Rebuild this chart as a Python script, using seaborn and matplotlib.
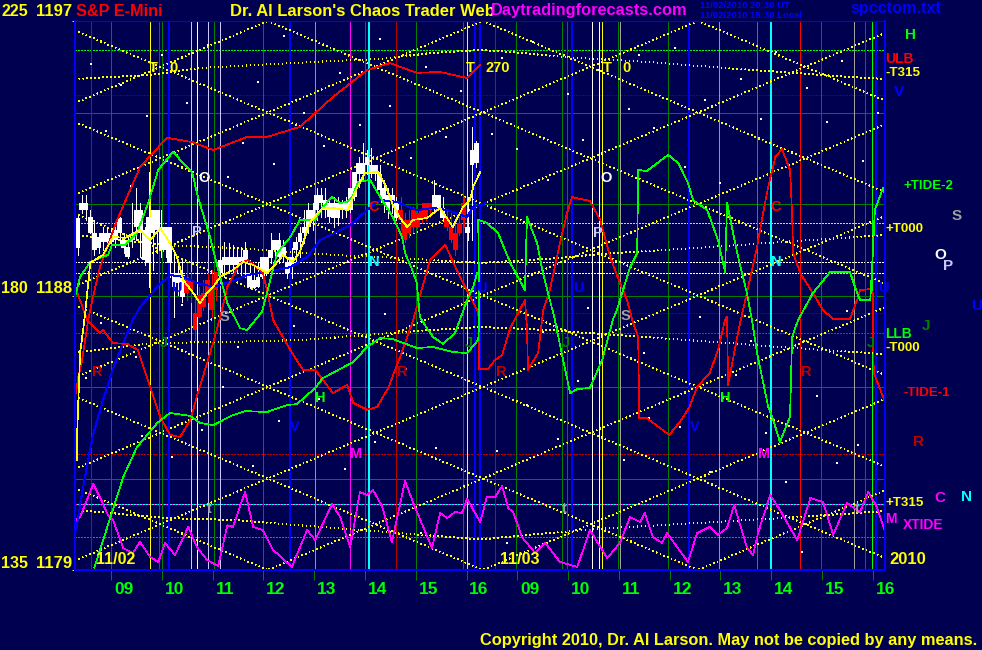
"""
S&P E-Mini chaos trader chart, two sessions of 5 minute bars with tide curves.
Time axis is continuous session hours (day one 09 = 9, day two 09 = 17).
"""

import numpy as np
import pandas as pd
import matplotlib
matplotlib.use('Agg')
import matplotlib.pyplot as plt
import seaborn as sns

NAVY = '#000050'
YELLOW = '#FFFF00'
LIME = '#00FF00'
GREEN = '#008000'
RED = '#FF0000'
DARKRED = '#C00000'
BLUE = '#0000FF'
MAGENTA = '#FF00FF'
CYAN = '#00FFFF'
LAVENDER = '#C8C8FF'
GREY = '#A0A0A0'

# 5 minute bars
bar_high = [1190.64, 1191.30, 1191.30, 1190.80, 1190.48, 1190.04, 1190.26, 1190.26, 1190.15, 1190.37,
            1190.59, 1190.04, 1189.93, 1191.02, 1191.51, 1191.02, 1190.26, 1192.06, 1190.80, 1190.80,
            1190.80, 1190.26, 1190.26, 1189.49, 1189.17, 1189.17, 1189.06, 1188.78, 1188.02, 1188.29,
            1188.51, 1188.73, 1188.84, 1188.78, 1189.60, 1189.77, 1189.71, 1189.66, 1189.60, 1189.60,
            1189.77, 1189.17, 1188.95, 1189.06, 1189.27, 1189.27, 1190.04, 1189.82, 1190.04, 1189.82,
            1189.27, 1189.55, 1189.93, 1190.26, 1190.80, 1191.02, 1191.02, 1191.51, 1191.51, 1191.51,
            1191.13, 1191.24, 1191.24, 1191.13, 1191.24, 1191.51, 1192.06, 1192.55, 1192.99, 1192.77,
            1192.83, 1192.28, 1192.28, 1191.79, 1191.51, 1191.51, 1191.24, 1191.24, 1190.69, 1190.80,
            1190.91, 1191.02, 1191.02, 1191.02, 1191.02, 1191.79, 1191.30, 1191.24, 1190.80, 1190.80,
            1190.48, 1190.59, 1191.24, 1191.24, 1193.54, 1193.05]
bar_low = [1189.33, 1190.69, 1190.48, 1190.04, 1189.33, 1189.38, 1189.49, 1189.55, 1189.60, 1189.60,
           1189.71, 1189.38, 1189.22, 1189.60, 1189.82, 1189.27, 1189.00, 1188.29, 1188.84, 1189.38,
           1189.27, 1189.27, 1188.62, 1187.31, 1188.02, 1187.80, 1187.85, 1187.80, 1186.54, 1187.31,
           1187.52, 1187.80, 1187.31, 1187.85, 1188.56, 1188.62, 1188.73, 1188.73, 1188.73, 1188.67,
           1188.62, 1188.24, 1188.24, 1188.29, 1188.56, 1188.67, 1189.06, 1189.06, 1189.06, 1189.11,
           1188.56, 1188.56, 1189.06, 1189.27, 1189.71, 1190.04, 1190.15, 1190.48, 1190.59, 1190.59,
           1190.42, 1190.26, 1190.31, 1190.53, 1190.59, 1190.75, 1191.13, 1191.57, 1191.79, 1192.00,
           1191.90, 1191.79, 1191.24, 1190.75, 1190.53, 1190.69, 1190.48, 1190.15, 1189.77, 1189.93,
           1190.09, 1190.20, 1190.37, 1190.48, 1190.59, 1190.69, 1190.80, 1190.48, 1190.15, 1189.77,
           1189.33, 1190.00, 1190.26, 1189.82, 1189.82, 1192.22]
bar_top = [1190.53, 1191.02, 1191.02, 1190.59, 1190.04, 1189.93, 1190.04, 1190.04, 1190.04, 1190.15,
           1190.53, 1189.82, 1189.60, 1189.93, 1190.80, 1190.80, 1190.15, 1190.59, 1190.80, 1190.80,
           1190.26, 1190.26, 1190.26, 1188.73, 1188.73, 1188.67, 1188.62, 1188.51, 1187.42, 1188.02,
           1188.07, 1188.51, 1188.29, 1188.78, 1189.17, 1189.27, 1189.27, 1189.27, 1189.27, 1189.27,
           1189.49, 1188.73, 1188.51, 1188.62, 1189.27, 1189.27, 1189.49, 1189.82, 1189.82, 1189.60,
           1189.06, 1189.27, 1189.77, 1190.04, 1190.26, 1190.80, 1190.80, 1191.30, 1191.30, 1191.13,
           1191.02, 1191.02, 1191.02, 1191.02, 1191.02, 1191.51, 1192.06, 1192.33, 1192.33, 1192.55,
           1192.28, 1192.28, 1192.00, 1191.51, 1191.30, 1191.30, 1191.02, 1190.80, 1190.48, 1190.48,
           1190.80, 1190.69, 1190.80, 1191.02, 1191.02, 1191.30, 1191.30, 1190.86, 1190.53, 1190.26,
           1190.04, 1190.37, 1191.02, 1190.26, 1192.77, 1192.99]
bar_bot = [1189.55, 1190.80, 1190.80, 1190.04, 1189.49, 1189.55, 1189.77, 1189.77, 1189.77, 1189.82,
           1190.04, 1189.55, 1189.27, 1189.82, 1190.26, 1190.04, 1189.17, 1189.06, 1190.04, 1190.15,
           1189.49, 1189.49, 1189.06, 1188.29, 1188.40, 1187.96, 1188.07, 1188.18, 1186.87, 1187.31,
           1187.63, 1188.07, 1187.52, 1188.18, 1188.73, 1189.00, 1189.00, 1189.00, 1189.00, 1189.06,
           1189.11, 1188.29, 1188.24, 1188.29, 1188.62, 1188.78, 1189.22, 1189.49, 1189.27, 1189.27,
           1188.73, 1188.95, 1189.49, 1189.77, 1190.04, 1190.26, 1190.48, 1190.80, 1191.02, 1190.80,
           1190.59, 1190.53, 1190.53, 1190.80, 1190.80, 1190.80, 1191.24, 1192.00, 1192.00, 1192.28,
           1192.00, 1192.00, 1191.46, 1191.02, 1190.80, 1191.08, 1190.53, 1190.48, 1189.82, 1190.04,
           1190.26, 1190.26, 1190.53, 1190.59, 1190.80, 1190.86, 1190.86, 1190.53, 1190.26, 1189.82,
           1189.49, 1190.04, 1190.48, 1190.04, 1192.28, 1192.33]
red_bars = [26, 27, 28, 29, 30, 31, 32, 33, 77, 78, 79, 80, 81, 82, 83, 84, 88, 89, 90, 91, 92]

# tide curves
red_upper_t = [8.31, 8.35, 8.43, 8.55, 8.63, 8.78, 9.12, 9.57, 10.10, 10.60, 11.01, 11.68, 12.07, 12.72,
               13.37, 14.04, 14.49, 15.02, 15.48, 16.01, 16.27]
red_upper_p = [1184.80, 1185.29, 1185.88, 1187.20, 1187.85, 1188.93, 1190.48, 1192.21, 1193.17, 1193.03,
               1192.77, 1193.20, 1193.20, 1193.53, 1194.51, 1195.39, 1195.62, 1195.30, 1195.33, 1195.13,
               1195.56]

red_lower_t = [8.31, 8.53, 8.78, 8.84, 9.04, 9.32, 9.53, 9.77, 9.97, 10.16, 10.36, 10.56, 10.71, 11.01,
               11.15, 11.29, 11.54, 11.70, 11.99, 12.07, 12.19, 12.53, 12.78, 13.02, 13.37, 13.65, 13.77,
               14.04, 14.24, 14.46, 14.69, 14.95, 15.28, 15.58, 15.87, 16.21, 16.25, 16.25, 16.42, 16.56,
               16.70, 16.86, 17.15, 17.19, 17.21, 17.41, 17.51, 17.64, 17.84, 17.98, 18.08, 18.14, 18.43,
               18.63, 18.83, 19.02, 19.16, 19.28, 19.38, 19.40, 19.55, 19.99, 20.20, 20.38, 20.54, 20.79,
               20.95, 21.09, 21.13, 21.15, 21.33, 21.40, 21.52, 21.72, 21.84, 21.94, 22.02, 22.08, 22.21,
               22.37, 22.41, 22.43, 22.57, 22.82, 23.02, 23.22, 23.55, 23.69, 23.75, 23.95, 24.00, 24.00,
               24.02, 24.24]
red_lower_p = [1188.21, 1187.20, 1186.77, 1186.87, 1186.44, 1186.41, 1186.21, 1185.00, 1184.02, 1183.43,
               1183.36, 1183.92, 1184.80, 1186.44, 1187.30, 1188.28, 1189.07, 1189.16, 1188.74, 1188.18,
               1187.20, 1186.21, 1185.56, 1185.56, 1184.80, 1185.07, 1184.48, 1184.25, 1184.35, 1184.97,
               1185.98, 1187.20, 1189.16, 1189.66, 1188.61, 1187.52, 1187.20, 1185.59, 1185.59, 1185.88,
               1186.05, 1186.93, 1187.85, 1186.93, 1185.56, 1186.12, 1187.52, 1188.18, 1189.72, 1190.71,
               1191.23, 1191.20, 1191.10, 1190.48, 1189.26, 1188.41, 1187.85, 1187.10, 1186.64, 1183.98,
               1183.98, 1183.43, 1183.85, 1184.31, 1185.00, 1185.46, 1186.21, 1187.20, 1187.30, 1185.07,
               1186.64, 1187.20, 1188.08, 1189.59, 1190.71, 1191.56, 1192.12, 1192.54, 1192.80, 1192.12,
               1190.71, 1189.39, 1188.74, 1188.08, 1187.52, 1187.23, 1187.23, 1187.85, 1188.18, 1188.21,
               1188.08, 1186.93, 1185.46, 1184.51]

green_a_t = [8.67, 9.24, 9.51, 9.91, 10.16, 10.56, 10.75, 11.01, 11.40, 11.64, 12.07, 12.47, 12.66, 13.02,
             13.17, 13.77, 14.04, 14.30, 14.55, 15.02, 15.34, 15.73, 16.01, 16.23, 16.25, 16.23, 16.40,
             16.62, 16.86, 17.15, 17.19, 17.39, 17.49, 17.74, 17.86, 18.04, 18.18, 18.43, 18.67, 18.88,
             18.96, 19.22, 19.36, 19.38, 19.55, 19.97, 20.17, 20.36, 20.46, 20.74, 20.95, 21.09, 21.13,
             21.33, 21.52, 21.62, 21.72, 21.94, 22.02, 22.17, 22.37, 22.41, 22.53, 22.82, 23.16, 23.55,
             23.69, 23.75, 23.95, 24.00, 24.04, 24.20, 24.24]
green_a_p = [1179.07, 1182.05, 1183.03, 1183.82, 1184.15, 1184.05, 1183.82, 1183.75, 1184.08, 1184.21,
             1184.18, 1184.41, 1184.44, 1184.97, 1185.29, 1185.82, 1186.31, 1186.61, 1186.57, 1186.28,
             1186.31, 1186.15, 1186.11, 1186.54, 1187.20, 1190.48, 1190.38, 1190.05, 1189.07, 1188.18,
             1190.57, 1189.72, 1188.84, 1187.20, 1186.21, 1184.80, 1184.93, 1184.97, 1185.88, 1187.20,
             1187.52, 1188.93, 1189.39, 1192.12, 1192.08, 1192.61, 1192.34, 1191.69, 1191.13, 1190.80,
             1189.82, 1188.77, 1191.03, 1189.39, 1188.08, 1187.20, 1186.12, 1184.35, 1184.02, 1183.20,
             1184.02, 1186.64, 1187.20, 1188.08, 1188.77, 1188.77, 1188.08, 1187.85, 1187.85, 1189.39,
             1190.80, 1191.52, 1191.29]

green_b_t = [8.29, 8.39, 8.59, 8.82, 8.94, 9.02, 9.28, 9.51, 9.73, 9.93, 10.22, 10.42, 10.60, 10.71, 10.95,
             11.11, 11.29, 11.54, 11.68, 11.97, 12.07, 12.27, 12.53, 12.72, 13.02, 13.17, 13.35, 13.51,
             13.65, 13.75, 13.86, 14.10, 14.30, 14.55, 14.73, 14.79, 14.93, 15.02, 15.08, 15.22, 15.34,
             15.54, 15.77, 15.87, 16.01, 16.13, 16.21]
green_b_p = [1187.95, 1188.61, 1189.10, 1189.26, 1189.33, 1189.66, 1189.66, 1190.05, 1191.03, 1192.12,
             1192.71, 1192.34, 1192.02, 1191.23, 1189.92, 1188.84, 1187.75, 1186.93, 1186.87, 1187.46,
             1188.08, 1189.39, 1189.92, 1190.48, 1190.48, 1190.90, 1191.23, 1191.03, 1191.07, 1191.23,
             1191.72, 1191.79, 1191.23, 1190.57, 1189.92, 1189.39, 1188.84, 1188.41, 1187.30, 1186.93,
             1186.64, 1186.41, 1186.77, 1187.20, 1187.85, 1188.28, 1188.74]

yellow_ma_t = [8.33, 8.33, 8.39, 8.45, 8.49, 8.59, 8.84, 9.04, 9.28, 9.57, 9.77, 9.97, 10.16, 10.30, 10.42,
               10.62, 10.75, 10.89, 11.01, 11.15, 11.40, 11.60, 11.80, 12.07, 12.19, 12.39, 12.58, 12.72,
               12.92, 13.17, 13.37, 13.67, 13.80, 14.00, 14.26, 14.40, 14.55, 14.69, 14.83, 14.95, 15.22,
               15.48, 15.73, 15.93, 16.07, 16.13, 16.27]
yellow_ma_p = [1182.61, 1183.36, 1186.12, 1186.87, 1187.43, 1189.07, 1189.33, 1189.92, 1189.89, 1190.15,
               1189.82, 1190.21, 1189.72, 1189.26, 1188.51, 1188.08, 1187.75, 1188.08, 1188.28, 1188.61,
               1188.84, 1189.10, 1189.00, 1188.74, 1188.93, 1189.33, 1189.10, 1189.43, 1190.41, 1190.87,
               1190.87, 1190.80, 1191.39, 1192.02, 1192.05, 1191.62, 1190.97, 1190.54, 1190.25, 1190.48,
               1190.54, 1190.87, 1190.25, 1190.90, 1191.13, 1191.56, 1192.05]

blue_ma_t = [8.31, 8.45, 8.63, 8.84, 9.08, 9.43, 9.57, 9.91, 10.16, 10.42, 10.69, 11.01, 11.34, 11.68, 12.07,
             12.53, 12.86, 13.12, 13.71, 14.04, 14.30, 14.63, 15.02, 15.34, 15.62, 16.01, 16.13, 16.37]
blue_ma_p = [1180.31, 1181.72, 1183.33, 1184.57, 1185.79, 1187.20, 1187.62, 1188.28, 1188.67, 1188.61,
             1188.41, 1188.28, 1188.44, 1188.67, 1188.77, 1188.93, 1189.26, 1189.82, 1190.31, 1190.80,
             1191.13, 1191.07, 1190.80, 1190.87, 1190.80, 1190.57, 1190.90, 1191.03]

xtide_t = [8.31, 8.39, 8.65, 8.78, 8.94, 9.04, 9.24, 9.43, 9.57, 9.77, 9.93, 10.06, 10.26, 10.52, 10.69, 10.89,
           11.11, 11.29, 11.40, 11.64, 11.80, 11.99, 12.19, 12.56, 12.86, 13.02, 13.35, 13.51, 13.71, 13.90,
           14.04, 14.16, 14.34, 14.53, 14.79, 14.95, 15.32, 15.48, 15.62, 15.77, 15.91, 16.01, 16.27, 16.40,
           16.56, 16.70, 16.82, 16.92, 17.09, 17.35, 17.55, 17.84, 18.18, 18.43, 18.77, 19.02, 19.22, 19.42,
           19.51, 19.67, 19.85, 19.95, 20.36, 20.54, 20.79, 20.95, 21.13, 21.27, 21.52, 21.64, 21.74, 21.98,
           22.17, 22.51, 22.77, 23.02, 23.22, 23.49, 23.75, 23.91, 24.08, 24.24]
xtide_p = [1180.64, 1180.74, 1181.82, 1181.39, 1180.80, 1180.64, 1179.72, 1179.56, 1179.92, 1179.43, 1179.26,
           1179.89, 1179.49, 1180.41, 1179.75, 1179.33, 1179.13, 1180.47, 1180.41, 1181.56, 1180.41, 1180.31,
           1179.66, 1179.10, 1180.31, 1179.98, 1181.16, 1180.74, 1179.75, 1181.56, 1181.46, 1181.62, 1181.07,
           1179.92, 1181.92, 1181.20, 1179.72, 1180.87, 1180.70, 1180.90, 1180.87, 1181.33, 1180.57, 1181.39,
           1181.39, 1181.75, 1181.03, 1180.90, 1180.08, 1179.56, 1179.89, 1179.26, 1179.10, 1180.31, 1179.39,
           1179.89, 1180.74, 1180.57, 1180.87, 1180.08, 1179.89, 1180.21, 1179.26, 1180.21, 1180.41, 1180.15,
           1180.38, 1181.13, 1179.75, 1179.49, 1180.21, 1181.46, 1180.97, 1179.98, 1181.36, 1181.23, 1180.15,
           1181.20, 1180.90, 1181.56, 1181.07, 1180.25]

# slow transit arcs
t315_up_t = [8.29, 9.77, 10.75, 13.37, 14.36, 15.28, 16.27, 16.92, 17.90, 19.55, 20.85, 22.17, 23.49, 24.24]
t315_up_p = [1195.10, 1195.23, 1195.46, 1195.69, 1195.76, 1195.95, 1196.05, 1195.98, 1195.82, 1195.66,
             1195.49, 1195.33, 1195.17, 1195.10]
t000_up_t = [8.29, 10.10, 11.40, 13.37, 14.69, 16.27, 17.59, 18.89, 20.54, 22.17, 24.24]
t000_up_p = [1189.98, 1189.65, 1189.56, 1189.33, 1189.23, 1189.07, 1189.20, 1189.39, 1189.56, 1189.75, 1189.98]
t000_dn_t = [8.29, 9.77, 11.40, 12.72, 14.04, 15.34, 16.27, 17.59, 18.89, 20.85, 22.17, 24.24]
t000_dn_p = [1186.12, 1186.44, 1186.48, 1186.54, 1186.71, 1186.87, 1186.97, 1186.87, 1186.71, 1186.48,
             1186.31, 1186.08]
t315_dn_t = [8.29, 10.10, 11.40, 13.37, 14.69, 16.27, 17.59, 18.89, 20.54, 22.17, 24.24]
t315_dn_p = [1180.97, 1180.70, 1180.64, 1180.38, 1180.21, 1180.00, 1180.21, 1180.38, 1180.54, 1180.70, 1180.93]

# square of price and time lines, price at the left and right edge of the chart
falling_left = [1181.69, 1184.69, 1187.69, 1190.69, 1193.69, 1196.69, 1199.69, 1202.69, 1205.69, 1208.69]
falling_right = [1170.39, 1173.39, 1176.39, 1179.39, 1182.39, 1185.39, 1188.39, 1191.39, 1194.39, 1197.39]
rising_left = [1170.31, 1173.31, 1176.31, 1179.31, 1182.31, 1185.31, 1188.31, 1191.31, 1194.31]
rising_right = [1181.61, 1184.61, 1187.61, 1190.61, 1193.61, 1196.61, 1199.61, 1202.61, 1205.61]
edge_t = [8.29, 24.24]

# horizontal levels
grid_levels = [1194, 1191, 1188, 1185, 1182]
h_dotted = {1196.05: LIME, 1194.58: BLUE, 1190.38: LAVENDER, 1189.10: 'white', 1188.74: 'white',
            1187.43: BLUE, 1186.77: GREEN, 1182.80: DARKRED, 1180.08: MAGENTA}
both_dotted_level = 1181.16

# vertical event lines
v_lines = {
    DARKRED: [8.61, 14.62, 16.57],
    GREEN: [9.00, 9.94, 10.01, 11.02, 12.00, 14.01, 15.01, 15.94, 16.98, 17.87, 17.98, 18.99, 19.97,
            21.98, 22.98, 23.85],
    YELLOW: [9.76, 16.00, 18.67],
    BLUE: [10.14, 12.53, 16.16, 16.27, 18.08, 20.38, 24.07],
    'white': [10.70, 18.48, 18.61],
    LAVENDER: [10.58, 10.90, 11.14],
    LIME: [13.01, 20.97, 23.99],
    MAGENTA: [13.71, 21.72],
    CYAN: [14.07, 22.00],
    GREY: [19.03, 23.63],
    RED: [22.57],
}

hour_ticks = [9, 10, 11, 12, 13, 14, 15, 16, 17, 18, 19, 20, 21, 22, 23, 24]
hour_labels = ['09', '10', '11', '12', '13', '14', '15', '16', '09', '10', '11', '12', '13', '14', '15', '16']

# background specks
star_t = [8.6, 8.9, 9.2, 9.4, 9.7, 10.0, 10.3, 10.5, 10.9, 11.3, 11.6, 11.9, 12.2, 12.4, 12.8, 13.2, 13.5, 13.9,
          14.3, 14.5, 14.9, 15.2, 15.6, 15.9, 16.5, 16.7, 17.0, 17.3, 17.6, 18.0, 18.3, 18.6, 19.2, 19.4, 19.7,
          20.1, 20.3, 20.7, 21.0, 21.4, 21.8, 22.1, 22.4, 22.7, 23.1, 23.4, 23.8, 24.1,
          8.5, 9.1, 9.6, 10.2, 10.8, 11.2, 11.8, 12.3, 13.1, 13.6, 14.2, 14.8, 15.4, 16.6, 17.2, 17.8, 18.2,
          19.1, 19.6, 20.2, 20.8, 21.3, 21.9, 22.3, 22.9, 23.3, 23.7,
          8.8, 9.5, 10.4, 11.5, 12.6, 13.4, 14.4, 15.1, 16.8, 17.5, 18.4, 19.5, 20.6, 21.6, 22.6, 23.5]
star_p = [1195.6, 1193.4, 1194.9, 1191.6, 1193.9, 1195.9, 1192.6, 1194.3, 1196.2, 1191.9, 1193.0, 1195.0, 1192.3,
          1196.5, 1194.0, 1192.9, 1195.3, 1193.6, 1196.4, 1194.2, 1192.5, 1195.5, 1193.2, 1194.7, 1193.3, 1195.8,
          1192.8, 1196.3, 1191.8, 1194.6, 1193.1, 1195.4, 1194.1, 1195.9, 1193.5, 1196.1, 1192.2, 1194.4, 1191.7,
          1195.1, 1193.8, 1196.0, 1192.7, 1194.8, 1193.7, 1195.7, 1192.4, 1194.0,
          1185.3, 1184.1, 1183.4, 1182.7, 1183.6, 1185.0, 1182.4, 1183.9, 1184.6, 1182.3, 1183.2, 1185.6, 1183.0,
          1182.9, 1184.4, 1183.3, 1185.2, 1182.6, 1184.0, 1183.7, 1182.2, 1185.4, 1183.5, 1181.9, 1184.7, 1182.5,
          1183.1,
          1187.1, 1186.0, 1187.7, 1186.3, 1187.0, 1186.6, 1187.4, 1180.2, 1179.9, 1186.8, 1187.6, 1186.1,
          1187.3, 1186.5, 1179.6, 1187.5]

# free text, x and y in figure pixels
page_text = [
    ('225', 1, 12, YELLOW, 11.5), ('1197', 36, 12, YELLOW, 12), ('180', 1, 288, YELLOW, 11.5),
    ('1188', 36, 288, YELLOW, 12), ('135', 1, 563, YELLOW, 11.5), ('1179', 36, 563, YELLOW, 12),
    ('S&P E-Mini', 76, 11, RED, 11.7), ("Dr. Al Larson's Chaos Trader Web", 230, 11, YELLOW, 11.9),
    ('Daytradingforecasts.com', 491, 11, MAGENTA, 11.8), ('spcctom.txt', 850, 9, BLUE, 11.6),
    ('H', 905, 35, LIME, 11), ('ULB', 885, 59, RED, 10), ('-T315', 885, 73, YELLOW, 9.6), ('V', 894, 92, BLUE, 11),
    ('+TIDE-2', 904, 186, LIME, 9.6), ('S', 952, 216, GREY, 11), ('+T000', 886, 229, YELLOW, 9.6),
    ('O', 934, 255, 'white', 11), ('P', 943, 266, LAVENDER, 11), ('U', 971, 306, BLUE, 11),
    ('J', 922, 326, GREEN, 11), ('LLB', 885, 334, LIME, 10), ('-T000', 885, 348, YELLOW, 9.6),
    ('-TIDE-1', 903, 393, RED, 9.6), ('R', 913, 442, DARKRED, 11), ('+T315', 886, 503, YELLOW, 9.6),
    ('C', 934, 498, MAGENTA, 11), ('N', 961, 497, CYAN, 11), ('M', 885, 519, MAGENTA, 10),
    ('XTIDE', 903, 525, MAGENTA, 10), ('2010', 889, 559, YELLOW, 12),
    ('T', 149, 68, YELLOW, 10.5), ('0', 169, 68, YELLOW, 10.5), ('T', 466, 68, YELLOW, 10.5), ('270', 486, 68, YELLOW, 10.5),
    ('T', 603, 68, YELLOW, 10.5), ('0', 622, 68, YELLOW, 10.5),
    ('O', 198, 178, 'white', 10.5), ('O', 600, 178, 'white', 10.5), ('P', 192, 232, LAVENDER, 10.5),
    ('P', 593, 233, LAVENDER, 10.5), ('U', 171, 288, BLUE, 10.5), ('U', 573, 288, BLUE, 10.5),
    ('U', 476, 288, BLUE, 10.5), ('U', 878, 288, BLUE, 10.5), ('S', 220, 317, GREY, 10.5), ('S', 621, 316, GREY, 10.5),
    ('J', 160, 343, GREEN, 10.5), ('J', 562, 343, GREEN, 10.5), ('J', 465, 343, GREEN, 10.5), ('J', 867, 343, GREEN, 10.5),
    ('R', 92, 372, DARKRED, 10.5), ('R', 397, 372, DARKRED, 10.5), ('R', 496, 372, DARKRED, 10.5),
    ('R', 801, 372, DARKRED, 10.5), ('H', 315, 398, LIME, 10.5), ('H', 720, 398, LIME, 10.5),
    ('V', 290, 427, BLUE, 10.5), ('V', 690, 427, BLUE, 10.5), ('C', 368, 207, RED, 10.5), ('C', 770, 207, RED, 10.5),
    ('N', 369, 262, CYAN, 10.5), ('N', 771, 262, CYAN, 10.5), ('M', 350, 454, MAGENTA, 10.5), ('M', 758, 454, MAGENTA, 10.5),
    ('t', 207, 509, GREY, 10.5), ('t', 562, 509, GREY, 10.5), ('t', 855, 509, GREY, 10.5),
    ('11/02', 96, 559, YELLOW, 11.5), ('11/03', 500, 559, YELLOW, 11.5),
    ('Copyright 2010, Dr. Al Larson. May not be copied by any means.', 480, 641, YELLOW, 11.8),
]


def draw_curve(ax, t_values, p_values, color, lw=0.5, ls='-'):
    """One tide curve, kept in reading order because some parts jump back."""
    frame = pd.DataFrame({'t': t_values, 'p': p_values})
    sns.lineplot(data=frame, x='t', y='p', color=color, linewidth=lw, linestyle=ls,
                 estimator=None, sort=False, legend=False, ax=ax)


def draw_bars(ax):
    bar_t = np.linspace(8.34, 16.19, len(bar_high))
    bars = pd.DataFrame({'t': bar_t, 'high': bar_high, 'low': bar_low, 'top': bar_top, 'bot': bar_bot})
    bars['color'] = 'white'
    bars.loc[red_bars, 'color'] = RED
    ax.vlines(bars['t'], bars['low'], bars['high'], colors=bars['color'], linewidth=0.7, zorder=3,
              antialiased=False)
    ax.bar(bars['t'], bars['top'] - bars['bot'], bottom=bars['bot'], width=0.095,
           color=bars['color'], linewidth=0, zorder=3, antialiased=False)


def main():
    sns.set_theme(style='dark', rc={'axes.facecolor': NAVY, 'figure.facecolor': NAVY})
    plt.rcParams['font.family'] = ['Liberation Sans', 'DejaVu Sans']
    plt.rcParams['font.weight'] = 'bold'
    plt.rcParams['lines.antialiased'] = False

    fig = plt.figure(figsize=(9.82, 6.5), dpi=100)
    ax = fig.add_axes([75 / 982, 80 / 650, 810 / 982, 549 / 650])

    dots = (0, (1, 4))

    # grid and event lines
    for level in grid_levels:
        ax.axhline(level, color=GREEN, linewidth=0.7, zorder=1)
    for level, color in h_dotted.items():
        ax.axhline(level, color=color, linewidth=0.6, linestyle=(0, (1.5, 2)), zorder=1)
    ax.axhline(both_dotted_level, color=MAGENTA, linewidth=0.7, linestyle=(0, (1.5, 2)), zorder=1)
    ax.axhline(both_dotted_level, color=CYAN, linewidth=0.7, linestyle=(1.5, (1.5, 2)), zorder=1)

    for color, times in v_lines.items():
        width = 1.2 if color in (CYAN, BLUE) else 0.7
        for t in times:
            ax.axvline(t, color=color, linewidth=width, zorder=1)

    # square lines and transit arcs
    for left, right in zip(falling_left, falling_right):
        draw_curve(ax, edge_t, [left, right], YELLOW, lw=0.7, ls=dots)
    for left, right in zip(rising_left, rising_right):
        draw_curve(ax, edge_t, [left, right], YELLOW, lw=0.7, ls=dots)
    draw_curve(ax, t315_up_t, t315_up_p, YELLOW, lw=0.7, ls=dots)
    draw_curve(ax, t000_up_t, t000_up_p, YELLOW, lw=0.7, ls=dots)
    draw_curve(ax, t000_dn_t, t000_dn_p, YELLOW, lw=0.7, ls=dots)
    draw_curve(ax, t315_dn_t, t315_dn_p, YELLOW, lw=0.7, ls=dots)

    ax.scatter(star_t, star_p, s=1.2, color='white', linewidths=0, marker='s', zorder=1)

    draw_bars(ax)

    # tides on top of the bars
    draw_curve(ax, xtide_t, xtide_p, MAGENTA)
    draw_curve(ax, blue_ma_t, blue_ma_p, BLUE, lw=0.7)
    draw_curve(ax, red_upper_t, red_upper_p, RED)
    draw_curve(ax, red_lower_t, red_lower_p, RED)
    draw_curve(ax, green_a_t, green_a_p, LIME)
    draw_curve(ax, green_b_t, green_b_p, LIME)
    draw_curve(ax, yellow_ma_t, yellow_ma_p, YELLOW)
    for line in ax.get_lines()[-7:]:
        line.set_zorder(4)

    ax.set_xlim(8.29, 24.24)
    ax.set_ylim(1179, 1197)
    ax.set_xlabel('')
    ax.set_ylabel('')
    ax.set_xticks(hour_ticks)
    ax.set_xticklabels([])
    ax.set_yticks([1179, 1188, 1197])
    ax.set_yticklabels([])
    ax.tick_params(axis='x', which='major', bottom=True, length=7, width=0.7, color=GREEN)
    ax.tick_params(axis='y', which='major', left=True, length=2, width=0.7, color=YELLOW)
    ax.grid(False)

    for name, spine in ax.spines.items():
        spine.set_visible(True)
        spine.set_color(BLUE)
        spine.set_linewidth(1.45 if name != 'top' else 0.8)
        spine.set_zorder(5)

    # hour labels sit right of the tick they name
    for t, text in zip(hour_ticks, hour_labels):
        ax.annotate(text, (t, 1179), xytext=(9, -14), textcoords='offset points', ha='center', va='center',
                    color=LIME, fontsize=12.5, annotation_clip=False)

    for text, px, py, color, size in page_text:
        fig.text(px / 982, 1 - py / 650, text, color=color, fontsize=size, ha='left', va='center')

    fig.text(700 / 982, 1 - 5 / 650, '11/02/2010 20:30 UT', color=BLUE, fontsize=6.8, ha='left', va='center')
    fig.text(700 / 982, 1 - 15 / 650, '11/02/2010 15:30 Local', color=BLUE, fontsize=6.8, ha='left', va='center')

    fig.savefig('out.png', dpi=100, facecolor=NAVY)
    plt.close(fig)


if __name__ == "__main__":
    main()
